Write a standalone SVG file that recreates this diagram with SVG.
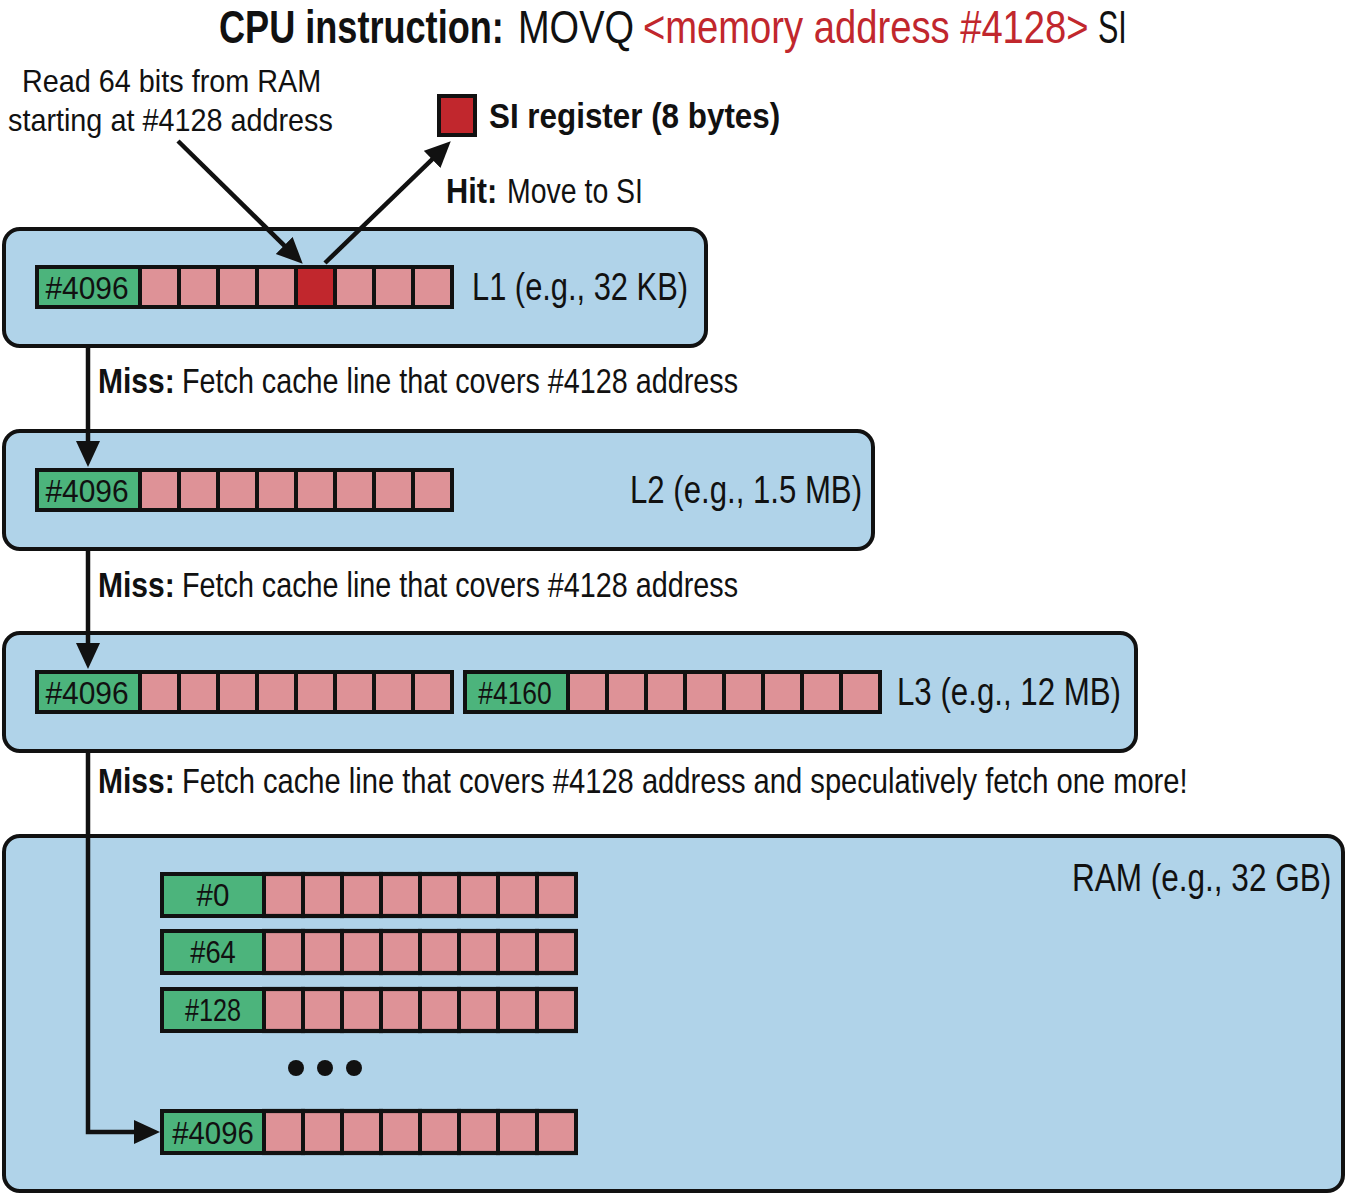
<svg xmlns="http://www.w3.org/2000/svg" width="1347" height="1195" viewBox="0 0 1347 1195">
<style>
text{font-family:"Liberation Sans",Arial,sans-serif;fill:#111;}
.b{font-weight:bold;}
.title{font-size:46px;}
.lbl{font-size:32px;}
.miss{font-size:36px;}
.lvl{font-size:38px;}
.cl{font-size:31px;text-anchor:middle;}
.red{fill:#c1272d;}
.box{fill:#b0d3e9;stroke:#111;stroke-width:4;}
.g{fill:#4cb47c;stroke:#111;stroke-width:4;}
.p{fill:#de9297;stroke:#111;stroke-width:4;}
.r{fill:#c1272d;stroke:#111;stroke-width:4;}
.ar{fill:none;stroke:#111;stroke-width:4.5;marker-end:url(#ah);}
</style>
<defs>
<marker id="ah" markerUnits="userSpaceOnUse" markerWidth="28" markerHeight="26" refX="17" refY="12" orient="auto">
<path d="M0,0 L26,12 L0,24 z" fill="#111"/>
</marker>
<g id="cells8">
<rect class="p" x="0" y="0" width="39" height="40"/>
<rect class="p" x="39" y="0" width="39" height="40"/>
<rect class="p" x="78" y="0" width="39" height="40"/>
<rect class="p" x="117" y="0" width="39" height="40"/>
<rect class="p" x="156" y="0" width="39" height="40"/>
<rect class="p" x="195" y="0" width="39" height="40"/>
<rect class="p" x="234" y="0" width="39" height="40"/>
<rect class="p" x="273" y="0" width="39" height="40"/>
</g>
</defs>
<rect width="1347" height="1195" fill="#fff"/>

<g id="title">
<text class="title b" transform="translate(219 43) scale(0.8 1)" textLength="356" lengthAdjust="spacingAndGlyphs">CPU instruction:</text>
<text class="title" transform="translate(518 43) scale(0.8 1)" textLength="145" lengthAdjust="spacingAndGlyphs">MOVQ</text>
<text class="title red" transform="translate(643 43) scale(0.8 1)" textLength="557" lengthAdjust="spacingAndGlyphs">&lt;memory address #4128&gt;</text>
<text class="title" transform="translate(1098 43) scale(0.8 1)" textLength="36" lengthAdjust="spacingAndGlyphs">SI</text>
</g>

<g id="read-note">
<text class="lbl" transform="translate(22 92) scale(0.8 1)" textLength="374" lengthAdjust="spacingAndGlyphs">Read 64 bits from RAM</text>
<text class="lbl" transform="translate(8 131) scale(0.8 1)" textLength="406" lengthAdjust="spacingAndGlyphs">starting at #4128 address</text>
</g>

<g id="si-register">
<rect class="r" x="439" y="96" width="36" height="39"/>
<text class="miss b" transform="translate(489 128) scale(0.8 1)" textLength="364" lengthAdjust="spacingAndGlyphs">SI register (8 bytes)</text>
</g>

<g id="hit-label">
<text class="miss b" transform="translate(446 203) scale(0.8 1)" textLength="64" lengthAdjust="spacingAndGlyphs">Hit:</text>
<text class="miss" transform="translate(507 203) scale(0.8 1)" textLength="170" lengthAdjust="spacingAndGlyphs">Move to SI</text>
</g>

<g id="L1">
<rect class="box" x="4" y="229" width="702" height="117" rx="16"/>
<rect class="g" x="37" y="267" width="103" height="40"/>
<use href="#cells8" x="140" y="267"/>
<rect class="r" x="296" y="267" width="39" height="40"/>
<text class="cl" transform="translate(87 299) scale(0.8 1)" textLength="104" lengthAdjust="spacingAndGlyphs">#4096</text>
<text class="lvl" transform="translate(472 300) scale(0.8 1)" textLength="270" lengthAdjust="spacingAndGlyphs">L1 (e.g., 32 KB)</text>
</g>

<g id="L2">
<rect class="box" x="4" y="431" width="869" height="118" rx="16"/>
<rect class="g" x="37" y="470" width="103" height="40"/>
<use href="#cells8" x="140" y="470"/>
<text class="cl" transform="translate(87 502) scale(0.8 1)" textLength="104" lengthAdjust="spacingAndGlyphs">#4096</text>
<text class="lvl" transform="translate(630 503) scale(0.8 1)" textLength="290" lengthAdjust="spacingAndGlyphs">L2 (e.g., 1.5 MB)</text>
</g>

<g id="L3">
<rect class="box" x="4" y="633" width="1132" height="118" rx="16"/>
<rect class="g" x="37" y="672" width="103" height="40"/>
<use href="#cells8" x="140" y="672"/>
<text class="cl" transform="translate(87 704) scale(0.8 1)" textLength="104" lengthAdjust="spacingAndGlyphs">#4096</text>
<rect class="g" x="465" y="672" width="103" height="40"/>
<use href="#cells8" x="568" y="672"/>
<text class="cl" transform="translate(515 704) scale(0.8 1)" textLength="92" lengthAdjust="spacingAndGlyphs">#4160</text>
<text class="lvl" transform="translate(897 705) scale(0.8 1)" textLength="280" lengthAdjust="spacingAndGlyphs">L3 (e.g., 12 MB)</text>
</g>

<g id="RAM">
<rect class="box" x="4" y="836" width="1339" height="355" rx="16"/>
<text class="lvl" transform="translate(1072 891) scale(0.8 1)" textLength="324" lengthAdjust="spacingAndGlyphs">RAM (e.g., 32 GB)</text>
<rect class="g" x="162" y="874" width="102" height="42"/>
<use href="#cells8" transform="translate(264,874) scale(1,1.05)"/>
<text class="cl" transform="translate(213 906) scale(0.8 1)" textLength="41" lengthAdjust="spacingAndGlyphs">#0</text>
<rect class="g" x="162" y="931" width="102" height="42"/>
<use href="#cells8" transform="translate(264,931) scale(1,1.05)"/>
<text class="cl" transform="translate(213 963) scale(0.8 1)" textLength="57" lengthAdjust="spacingAndGlyphs">#64</text>
<rect class="g" x="162" y="989" width="102" height="42"/>
<use href="#cells8" transform="translate(264,989) scale(1,1.05)"/>
<text class="cl" transform="translate(213 1021) scale(0.8 1)" textLength="70" lengthAdjust="spacingAndGlyphs">#128</text>
<circle cx="296" cy="1068" r="8" fill="#111"/>
<circle cx="325" cy="1068" r="8" fill="#111"/>
<circle cx="354" cy="1068" r="8" fill="#111"/>
<rect class="g" x="162" y="1111" width="102" height="42"/>
<use href="#cells8" transform="translate(264,1111) scale(1,1.05)"/>
<text class="cl" transform="translate(213 1144) scale(0.8 1)" textLength="102" lengthAdjust="spacingAndGlyphs">#4096</text>
</g>

<g id="connectors">
<path class="ar" d="M178,141 L296.3,257.4"/>
<path class="ar" d="M325,263 L444.3,147.6"/>
<path class="ar" d="M88,347 V458"/>
<path class="ar" d="M88,550 V660"/>
<path class="ar" d="M88,752 V1132 H151"/>
</g>

<g id="miss-labels">
<text class="miss b" transform="translate(98 393) scale(0.8 1)" textLength="96" lengthAdjust="spacingAndGlyphs">Miss:</text>
<text class="miss" transform="translate(182 393) scale(0.8 1)" textLength="695" lengthAdjust="spacingAndGlyphs">Fetch cache line that covers #4128 address</text>
<text class="miss b" transform="translate(98 597) scale(0.8 1)" textLength="96" lengthAdjust="spacingAndGlyphs">Miss:</text>
<text class="miss" transform="translate(182 597) scale(0.8 1)" textLength="695" lengthAdjust="spacingAndGlyphs">Fetch cache line that covers #4128 address</text>
<text class="miss b" transform="translate(98 793) scale(0.8 1)" textLength="96" lengthAdjust="spacingAndGlyphs">Miss:</text>
<text class="miss" transform="translate(182 793) scale(0.8 1)" textLength="1257" lengthAdjust="spacingAndGlyphs">Fetch cache line that covers #4128 address and speculatively fetch one more!</text>
</g>
</svg>
